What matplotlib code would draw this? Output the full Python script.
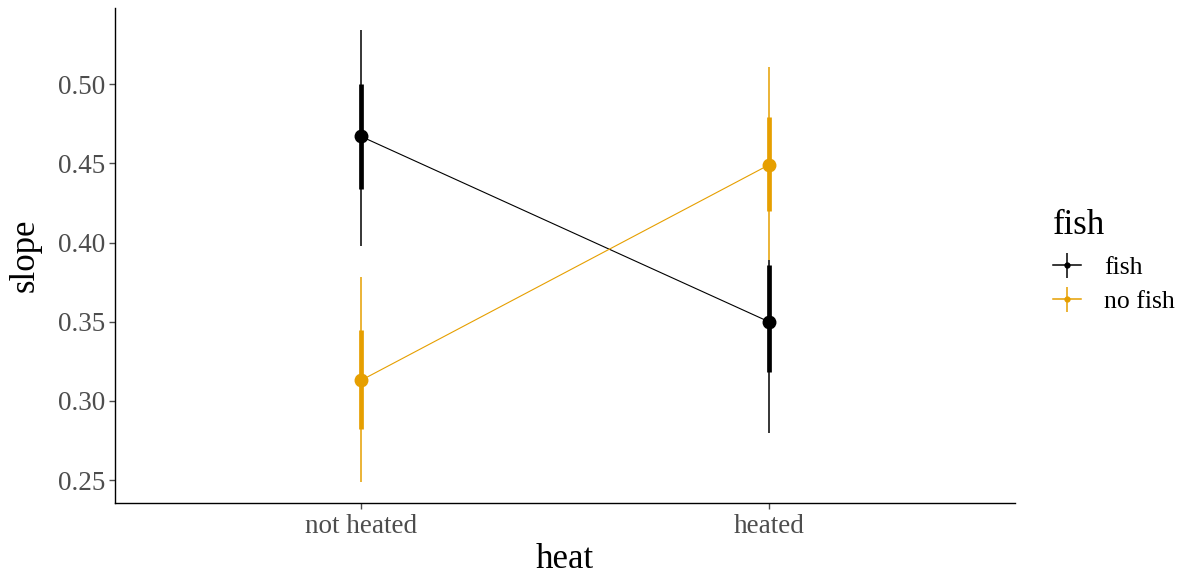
import matplotlib
matplotlib.use("Agg")
import matplotlib.pyplot as plt
import numpy as np
from matplotlib.lines import Line2D
from matplotlib.legend_handler import HandlerTuple

plt.rcParams['font.family'] = ['Liberation Serif', 'DejaVu Serif']

# data
heat_levels = ['not heated', 'heated']
fish_levels = ['fish', 'no fish']
slope_mean = {'fish': [0.467, 0.350], 'no fish': [0.313, 0.449]}
inner_lo = {'fish': [0.434, 0.318], 'no fish': [0.282, 0.420]}
inner_hi = {'fish': [0.500, 0.386], 'no fish': [0.345, 0.479]}
outer_lo = {'fish': [0.398, 0.280], 'no fish': [0.249, 0.389]}
outer_hi = {'fish': [0.534, 0.389], 'no fish': [0.378, 0.511]}
y_ticks = [0.25, 0.30, 0.35, 0.40, 0.45, 0.50]

colors = {'fish': '#000000', 'no fish': '#E69F00'}
tick_grey = '#4D4D4D'

fig = plt.figure(figsize=(11.94, 5.77), dpi=100)
ax = fig.add_axes([0.0963, 0.128, 0.7537, 0.858])

x = np.arange(len(heat_levels))
for grp in fish_levels:
    c = colors[grp]
    ax.plot(x, slope_mean[grp], color=c, lw=0.8, zorder=2)
    ax.vlines(x, outer_lo[grp], outer_hi[grp], color=c, lw=1.1, zorder=3)
    ax.vlines(x, inner_lo[grp], inner_hi[grp], color=c, lw=3.4, zorder=3)
    ax.plot(x, slope_mean[grp], 'o', color=c, ms=9, zorder=4)

ax.set_xlim(-0.603, 1.603)
ax.set_ylim(0.2355, 0.548)
ax.set_xticks(x)
ax.set_xticklabels(heat_levels)
ax.set_yticks(y_ticks)
ax.set_yticklabels([f'{v:.2f}' for v in y_ticks])

ax.tick_params(axis='both', colors=tick_grey, labelsize=19.5, length=4, width=1)
ax.tick_params(axis='x', pad=4)
ax.tick_params(axis='y', pad=3)
ax.spines['right'].set_visible(False)
ax.spines['top'].set_visible(False)
for s in ['left', 'bottom']:
    ax.spines[s].set_color('black')
    ax.spines[s].set_linewidth(1.0)

ax.set_xlabel('heat', fontsize=25, labelpad=3, color='black')
ax.set_ylabel('slope', fontsize=25, labelpad=12, color='black')

# legend keys: horizontal line + vertical range + small dot
handles = []
for g in fish_levels:
    c = colors[g]
    hline = Line2D([0], [0], color=c, lw=1.1)
    vline = Line2D([0], [0], color=c, ls='none', marker='|', ms=18, mew=1.1)
    dot = Line2D([0], [0], color=c, ls='none', marker='o', ms=3.5)
    handles.append((hline, vline, dot))

leg = fig.legend(handles, fish_levels, title='fish', loc='upper left',
                 bbox_to_anchor=(0.882, 0.638), frameon=False, fontsize=18.5,
                 title_fontsize=25, handlelength=1.1, handletextpad=0.9,
                 labelspacing=0.45, borderpad=0, borderaxespad=0,
                 handler_map={tuple: HandlerTuple(ndivide=1, pad=0)})
leg._legend_box.align = 'left'
leg._legend_box.sep = 10

fig.savefig('out.png', dpi=100)
